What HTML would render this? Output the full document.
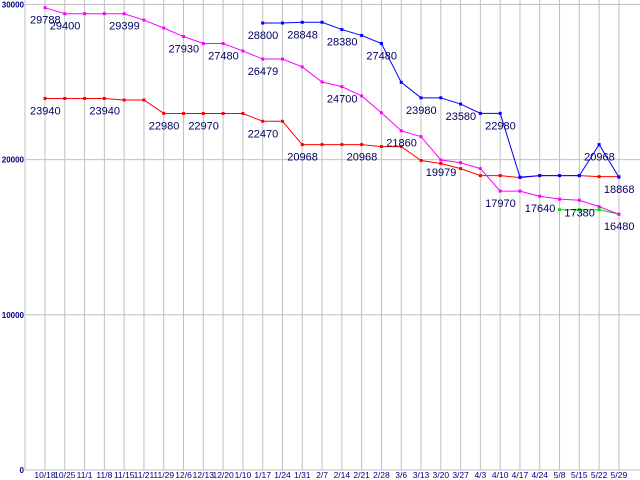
<!DOCTYPE html>
<html><head><meta charset="utf-8"><style>
body{margin:0;background:#fff;}
svg{display:block;font-family:"Liberation Sans",sans-serif;}
</style></head><body>
<svg id="chart" width="640" height="480"></svg>
<script>
const categories=["10/18","10/25","11/1","11/8","11/15","11/21","11/29","12/6","12/13","12/20","1/10","1/17","1/24","1/31","2/7","2/14","2/21","2/28","3/6","3/13","3/20","3/27","4/3","4/10","4/17","4/24","5/8","5/15","5/22","5/29"];
const yTicks=[0,10000,20000,30000];
const magenta=[29788,29400,29400,29400,29399,28990,28480,27930,27480,27480,27000,26479,26479,25970,25000,24700,24100,23020,21860,21480,19979,19800,19420,17970,17970,17640,17450,17380,16970,16480];
const red=[23940,23940,23940,23940,23840,23840,22980,22970,22970,22970,22970,22470,22470,20968,20968,20968,20968,20840,20840,19940,19750,19420,18970,18970,18840,18970,18970,18970,18900,18900];
const blue=[null,null,null,null,null,null,null,null,null,null,null,28800,28800,28848,28848,28380,28000,27480,24980,23980,23980,23580,22980,22980,18868,18968,18968,18968,20968,18868];
const green=[null,null,null,null,null,null,null,null,null,null,null,null,null,null,null,null,null,null,null,null,null,null,null,null,null,null,16770,16770,16770,16480];
const magentaLabels={0:"29788",1:"29400",4:"29399",7:"27930",9:"27480",11:"26479",15:"24700",18:"21860",20:"19979",23:"17970",25:"17640",27:"17380",29:"16480"};
const redLabels={0:"23940",3:"23940",6:"22980",8:"22970",11:"22470",13:"20968",16:"20968"};
const blueLabels={11:"28800",13:"28848",15:"28380",17:"27480",19:"23980",21:"23580",23:"22980",28:"20968",29:"18868"};

const NS="http://www.w3.org/2000/svg";
const svg=document.getElementById('chart');
const x=i=>45+i*19.79;
const y=v=>470-v*0.01552;
function mk(t,a){const e=document.createElementNS(NS,t);for(const k in a)e.setAttribute(k,a[k]);svg.appendChild(e);return e;}
categories.forEach((c,i)=>{
  const g=mk('line',{x1:x(i),x2:x(i),y1:0,y2:470,stroke:'#c0c0c0'});
  
  
  const t=mk('text',{x:x(i),y:478,'font-size':8.5,fill:'#000080','text-anchor':'middle'});
  t.textContent=c;
  
  
});
yTicks.forEach(v=>{
  const g=mk('line',{x1:25,x2:640,y1:y(v),y2:y(v),stroke:'#c0c0c0'});
  
  
  const t=mk('text',{x:24,y:y(v)+3,'font-size':8,'font-weight':'bold',fill:'#000080','text-anchor':'end'});
  t.textContent=v;
  
  
});
const ax=mk('line',{x1:25,x2:25,y1:0,y2:470,stroke:'#c0c0c0'});


function series(vals,color,name,labels){
  let pts=[];
  vals.forEach((v,i)=>{if(v!==null)pts.push([x(i),y(v)]);});
  const p=mk('polyline',{points:pts.map(q=>q.join(',')).join(' '),fill:'none',stroke:color,'stroke-width':1});
  
  
  vals.forEach((v,i)=>{if(v===null)return;
    const r=mk('rect',{x:x(i)-1.5,y:y(v)-1.5,width:3,height:3,fill:color});
    
    
  });
  for(const k in labels){const i=+k;
    const t=mk('text',{x:x(i)-15,y:y(vals[i])+16,'font-size':11,fill:'#000060'});
    t.textContent=labels[k];
    
    
  }
}
series(green,'#00e000','green-series',{});
series(red,'#ff0000','red-series',redLabels);
series(magenta,'#ff00ff','magenta-series',magentaLabels);
series(blue,'#0000ff','blue-series',blueLabels);
</script>
</body></html>
